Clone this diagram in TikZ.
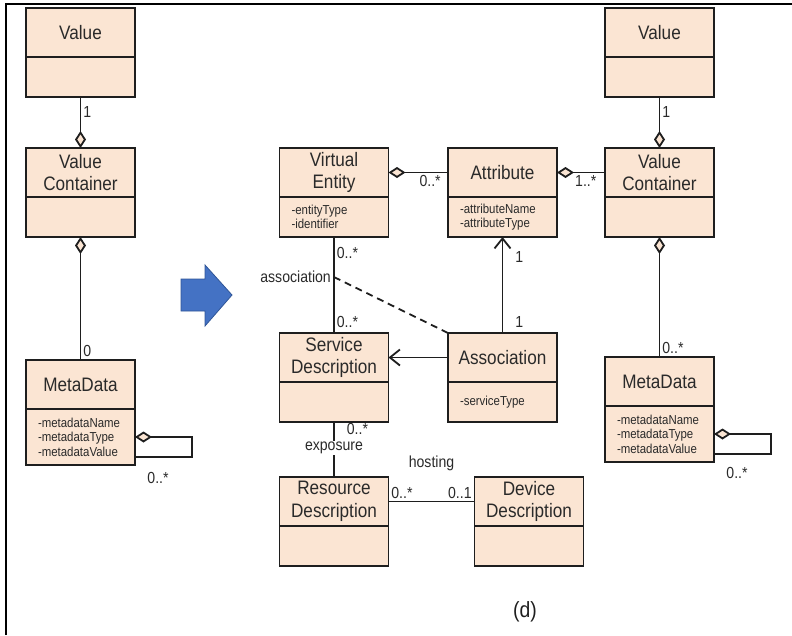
\documentclass[tikz,border=0pt]{standalone}
\usepackage{fontspec}
\usetikzlibrary{arrows.meta, positioning, calc}
\newfontfamily\umlfont{Liberation Sans}[FakeStretch=0.88]
\newcommand\umlname{\umlfont\fontsize{19.5}{22.5}\selectfont}
\newcommand\umlattr{\umlfont\fontsize{13}{14.5}\selectfont}
\newcommand\umllbl{\umlfont\fontsize{16}{18}\selectfont}
\definecolor{umlFill}{HTML}{FBE5D3}
\definecolor{umlLine}{HTML}{1E1E1E}
\definecolor{umlText}{HTML}{2A2A2A}
\definecolor{arrowBlue}{HTML}{4472C4}
\definecolor{arrowEdge}{HTML}{2F5597}
\tikzset{
  classHead/.style={rectangle, draw=umlLine, fill=umlFill, line width=1.8pt,
                    minimum width=109pt, minimum height=49pt, inner sep=0pt,
                    outer sep=0pt, align=center, font=\umlname, text=umlText},
  classBody/.style={rectangle, draw=umlLine, fill=umlFill, line width=1.8pt,
                    minimum height=40pt, text width=85pt, inner xsep=12pt,
                    inner ysep=0pt, outer sep=0pt, align=left, font=\umlattr,
                    text=umlText},
  lineU/.style={draw=umlLine, line width=1.8pt},
  aggrU/.style={{Diamond[fill=umlFill, length=17pt, width=11pt]}-, lineU},
  navU/.style={-{Straight Barb[length=10pt, width=16pt]}, lineU},
  dashU/.style={lineU, dash pattern=on 7pt off 5pt},
  mult/.style={font=\umllbl, text=umlText, inner sep=2pt},
}

\begin{document}
\begin{tikzpicture}[x=1pt, y=-1pt]
  \useasboundingbox (0,0) rectangle (792,635);
  \draw[line width=2.2pt] (6,635) -- (6,4) -- (792,4);

  % left model
  \node[classHead, anchor=north] (lval) at (80.5,8) {Value};
  \node[classBody, below=0pt of lval] (lvalb) {};
  \node[classHead, anchor=north] (lvc) at (80.5,148) {Value\\Container};
  \node[classBody, below=0pt of lvc] (lvcb) {};
  \node[classHead, anchor=north] (lmd) at (80.5,360) {MetaData};
  \node[classBody, below=0pt of lmd, minimum height=56pt] (lmdb)
    {-metadataName\\-metadataType\\-metadataValue};
  \draw[lineU, -{Diamond[fill=umlFill, length=17pt, width=11pt]}] (lvalb.south)
    -- node[mult, right, pos=0.29] {1} (lvc.north);
  \draw[aggrU] (lvcb.south) -- node[mult, at end, above right] {0} (lmd.north);
  \draw[lineU, -{Diamond[fill=umlFill, length=17pt, width=11pt]}]
    ([yshift=-20pt]lmdb.east) -- ++(57,0) |- (lmdb.east);
  \node[mult] (lloop) at ([xshift=23pt, yshift=-13pt]lmdb.south east) {0..*};

  \draw[draw=arrowEdge, fill=arrowBlue, line width=0.8pt]
    (181,279) -- (205,279) -- (205,265) -- (232,295) -- (205,326)
    -- (205,311) -- (181,311) -- cycle;

  % right model
  \node[classHead, anchor=north] (ve) at (334,148) {Virtual\\Entity};
  \node[classBody, below=0pt of ve] (veb) {-entityType\\-identifier};
  \node[classHead, anchor=north] (attr) at (502.5,148) {Attribute};
  \node[classBody, below=0pt of attr] (attrb) {-attributeName\\-attributeType};
  \node[classHead, anchor=north] (rval) at (659.5,8) {Value};
  \node[classBody, below=0pt of rval] (rvalb) {};
  \node[classHead, anchor=north] (rvc) at (659.5,148) {Value\\Container};
  \node[classBody, below=0pt of rvc] (rvcb) {};
  \node[classHead, anchor=north] (rmd) at (659.5,357) {MetaData};
  \node[classBody, below=0pt of rmd, minimum height=56pt] (rmdb)
    {-metadataName\\-metadataType\\-metadataValue};
  \node[classHead, anchor=north] (sd) at (334,333) {Service\\Description};
  \node[classBody, below=0pt of sd] (sdb) {};
  \node[classHead, anchor=north] (assoc) at (502.5,333) {Association};
  \node[classBody, below=0pt of assoc] (assocb) {-serviceType};
  \node[classHead, anchor=north] (rd) at (334,477) {Resource\\Description};
  \node[classBody, below=0pt of rd] (rdb) {};
  \node[classHead, anchor=north] (dd) at (529,477) {Device\\Description};
  \node[classBody, below=0pt of dd] (ddb) {};

  \draw[aggrU] (ve.east) -- node[mult, below, pos=0.7] {0..*} (attr.west);
  \draw[aggrU] (attr.east) -- node[mult, below, pos=0.6] {1..*} (rvc.west);
  \draw[lineU, -{Diamond[fill=umlFill, length=17pt, width=11pt]}] (rvalb.south)
    -- node[mult, right, pos=0.29] {1} (rvc.north);
  \draw[aggrU] (rvcb.south) -- node[mult, at end, above right] {0..*} (rmd.north);
  \draw[lineU, -{Diamond[fill=umlFill, length=17pt, width=11pt]}]
    ([yshift=-20pt]rmdb.east) -- ++(57,0) |- (rmdb.east);
  \node[mult] (rloop) at ([xshift=23pt, yshift=-11pt]rmdb.south east) {0..*};

  \draw[lineU] (veb.south) -- node[mult, right, pos=0.17] {0..*}
    coordinate[pos=0.417] (assocpt)
    node[mult, right, pos=0.885] {0..*} (sd.north);
  \node[mult, left=1pt of assocpt] (assoclbl) {association};
  \draw[dashU] (assocpt) -- (assoc.north west);
  \draw[navU] (assoc.north) -- node[mult, right=10pt, pos=0.115] {1}
    node[mult, right=10pt, pos=0.79] {1} (attrb.south);
  \draw[navU] (assoc.west) -- (sd.east);

  \draw[lineU] (sdb.south) -- node[mult, right=10pt, pos=0.12] {0..*}
    node[mult, fill=white, inner sep=1pt, pos=0.47] (explbl) {exposure} (rd.north);
  \draw[lineU] (rd.east) -- node[mult, at start, above right] {0..*}
    node[mult, at end, above left] {0..1}
    node[mult, above=28pt] (hostlbl) {hosting} (dd.west);

  \node[font=\umlfont\fontsize{22}{24}\selectfont, text=umlLine] (cap) at (525,612) {(d)};
\end{tikzpicture}
\end{document}
